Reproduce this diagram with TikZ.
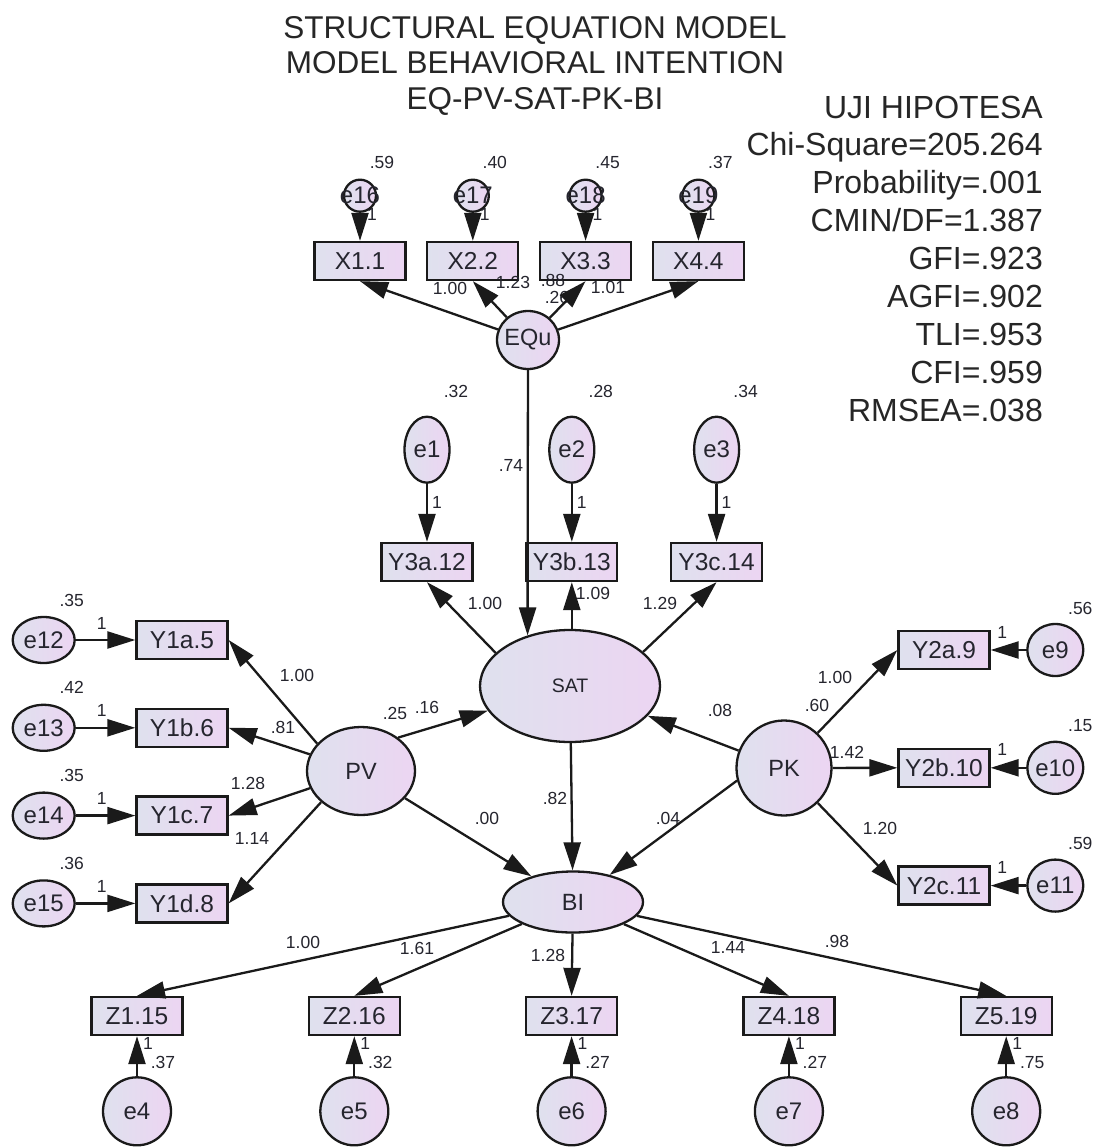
\documentclass[tikz,border=0pt]{standalone}
\usepackage{fontspec}
\setmainfont{Liberation Sans}
\usepackage{tikz}
\usetikzlibrary{shapes.geometric, arrows.meta, positioning}
\definecolor{colorBorde}{HTML}{1A1A1A}
\definecolor{colorTexto}{HTML}{25252E}
\definecolor{rellenoIzq}{HTML}{DFE1EE}
\definecolor{rellenoDer}{HTML}{ECD5F2}
\newcommand{\nm}[1]{\makebox[0pt]{#1}}

\begin{document}
\begin{tikzpicture}[
        x=1pt, y=-1pt,
        obs/.style={draw=colorBorde, line width=2.3pt, left color=rellenoIzq, right color=rellenoDer,
            minimum width=91pt, minimum height=38pt, inner sep=0pt, text=colorTexto, font=\fontsize{24.5}{28}\selectfont},
        lat/.style={ellipse, draw=colorBorde, line width=2.3pt, left color=rellenoIzq, right color=rellenoDer,
            inner sep=0pt, text=colorTexto, font=\fontsize{23.5}{28}\selectfont},
        err/.style={lat, font=\fontsize{24}{28}\selectfont},
        num/.style={inner sep=0pt, text=colorTexto, font=\fontsize{17.5}{20}\selectfont},
        judul/.style={inner sep=0pt, text=black!85, font=\fontsize{31.5}{36}\selectfont},
        stat/.style={judul, font=\fontsize{32}{38}\selectfont},
        rel/.style={-{Triangle[length=28pt, width=17pt]}, line width=2.3pt, colorBorde}
    ]
    \fill[white] (0,0) rectangle (1099,1148);
    \useasboundingbox (0,0) rectangle (1099,1148);

    % judul dan uji hipotesa
    \foreach \t [count=\i] in {STRUCTURAL EQUATION MODEL, MODEL BEHAVIORAL INTENTION, EQ-PV-SAT-PK-BI}
        \node[judul, anchor=base] (j\i) at (535, 4+35*\i) {\t};
    \foreach \t [count=\i] in {UJI HIPOTESA, Chi-Square=205.264, Probability=.001, CMIN/DF=1.387,
            GFI=.923, AGFI=.902, TLI=.953, CFI=.959, RMSEA=.038}
        \node[stat, anchor=base east] (s\i) at (1043, 80.1+37.9*\i) {\t};

    % variabel laten
    \node[lat, minimum width=62pt, minimum height=58pt] (EQu) at (528,340) {\nm{EQu}};
    \node[lat, minimum width=180pt, minimum height=112pt, font=\fontsize{19.5}{22}\selectfont] (SAT) at (570,686) {\nm{SAT}};
    \node[lat, minimum width=108pt, minimum height=88pt] (PV) at (361,771) {\nm{PV}};
    \node[lat, minimum width=95pt, minimum height=95pt] (PK) at (784,768) {\nm{PK}};
    \node[lat, minimum width=140pt, minimum height=61pt] (BI) at (573,902) {\nm{BI}};

    % indikator
    \node[obs] (X1) at (360,261) {X1.1};
    \node[obs, right=19.5pt of X1] (X2) {X2.2};
    \node[obs, right=19.5pt of X2] (X3) {X3.3};
    \node[obs, right=19.5pt of X3] (X4) {X4.4};
    \node[obs] (Y3a) at (427,562) {Y3a.12};
    \node[obs, right=51.5pt of Y3a] (Y3b) {Y3b.13};
    \node[obs, right=51.5pt of Y3b] (Y3c) {Y3c.14};
    \node[obs] (Y1a) at (182,640) {Y1a.5};
    \node[obs, below=47.5pt of Y1a] (Y1b) {Y1b.6};
    \node[obs, below=47.5pt of Y1b] (Y1c) {Y1c.7};
    \node[obs, below=47.5pt of Y1c] (Y1d) {Y1d.8};
    \node[obs] (Y2a) at (944,650) {Y2a.9};
    \node[obs, below=77.5pt of Y2a] (Y2b) {Y2b.10};
    \node[obs, below=77.5pt of Y2b] (Y2c) {Y2c.11};
    \node[obs] (Z1) at (137,1016) {Z1.15};
    \node[obs, right=124pt of Z1] (Z2) {Z2.16};
    \node[obs, right=124pt of Z2] (Z3) {Z3.17};
    \node[obs, right=124pt of Z3] (Z4) {Z4.18};
    \node[obs, right=124pt of Z4] (Z5) {Z5.19};

    % koefisien jalur
    \foreach \t/\px/\py [count=\i] in {1.00/450/288, 1.23/513/282, .88/553/280, .26/557/297, 1.01/608/287,
            .74/511/465, 1.00/485/603, 1.09/593/593, 1.29/660/603,
            1.00/297/675, .81/283/727, 1.28/248/783, 1.14/252/838, .25/395/713, .16/427/707, .00/487/818,
            .82/555/798, .08/720/710, .60/817/705, 1.00/835/677, 1.42/847/752, 1.20/880/828, .04/668/818,
            1.00/303/942, 1.61/417/948, 1.28/548/955, 1.44/728/947, .98/837/941}
        \node[num] (c\i) at (\px,\py) {\t};

    % error
    \foreach \bx/\er/\var in {X1/e16/.59, X2/e17/.40, X3/e18/.45, X4/e19/.37}{
        \node[err, circle, minimum size=32pt, above=28pt of \bx] (\er) {\nm{\er}};
        \node[num] (v\er) at ([xshift=22pt, yshift=33pt]\er.center) {\var};
        \node[num] (k\er) at ([xshift=12pt, yshift=-19pt]\er.center) {1};
        \draw[rel] (\er) -- (\bx);
    }
    \foreach \bx/\er/\var in {Y3a/e1/.32, Y3b/e2/.28, Y3c/e3/.34}{
        \node[err, minimum width=45pt, minimum height=66pt, above=58pt of \bx] (\er) {\nm{\er}};
        \node[num] (v\er) at ([xshift=29pt, yshift=58pt]\er.center) {\var};
        \node[num] (k\er) at ([xshift=10pt, yshift=-53pt]\er.center) {1};
        \draw[rel] (\er) -- (\bx);
    }
    \foreach \bx/\er/\var in {Y1a/e12/.35, Y1b/e13/.42, Y1c/e14/.35, Y1d/e15/.36}{
        \node[err, minimum width=62pt, minimum height=46pt, left=59.5pt of \bx] (\er) {\nm{\er}};
        \node[num] (v\er) at ([xshift=28pt, yshift=40pt]\er.center) {\var};
        \node[num] (k\er) at ([xshift=58pt, yshift=17pt]\er.center) {1};
        \draw[rel] (\er) -- (\bx);
    }
    \foreach \bx/\er/\var in {Y2a/e9/.56, Y2b/e10/.15, Y2c/e11/.59}{
        \node[err, minimum width=56pt, minimum height=52pt, right=35.5pt of \bx] (\er) {\nm{\er}};
        \node[num] (v\er) at ([xshift=25pt, yshift=42pt]\er.center) {\var};
        \node[num] (k\er) at ([xshift=-53pt, yshift=18pt]\er.center) {1};
        \draw[rel] (\er) -- (\bx);
    }
    \foreach \bx/\er/\var in {Z1/e4/.37, Z2/e5/.32, Z3/e6/.27, Z4/e7/.27, Z5/e8/.75}{
        \node[err, minimum width=68pt, minimum height=68pt, below=40pt of \bx] (\er) {\nm{\er}};
        \node[num] (v\er) at ([xshift=26pt, yshift=49pt]\er.center) {\var};
        \node[num] (k\er) at ([xshift=11pt, yshift=68pt]\er.center) {1};
        \draw[rel] (\er) -- (\bx);
    }

    % jalur
    \foreach \bx in {X1,X2,X3,X4} \draw[rel] (EQu) -- (\bx.south);
    \draw[rel] (EQu) -- (SAT.130);
    \draw[rel] (SAT.156) -- (Y3a.south);
    \draw[rel] (SAT.north -| Y3b.south) -- (Y3b.south);
    \draw[rel] (SAT.25) -- (Y3c.south);
    \draw[rel] (PV.148) -- (Y1a.east);
    \draw[rel] (PV) -- (Y1b.east);
    \draw[rel] (PV) -- (Y1c.east);
    \draw[rel] (PV.218) -- (Y1d.east);
    \draw[rel] (PV.42) -- (SAT);
    \draw[rel] (PV) -- (BI);
    \draw[rel] (PK) -- (SAT);
    \draw[rel] (PK.195) -- (BI);
    \foreach \bx in {Y2a,Y2b,Y2c} \draw[rel] (PK) -- (\bx.west);
    \draw[rel] (SAT) -- (BI);
    \foreach \bx in {Z1,Z2,Z3,Z4,Z5} \draw[rel] (BI) -- (\bx.north);
\end{tikzpicture}
\end{document}
